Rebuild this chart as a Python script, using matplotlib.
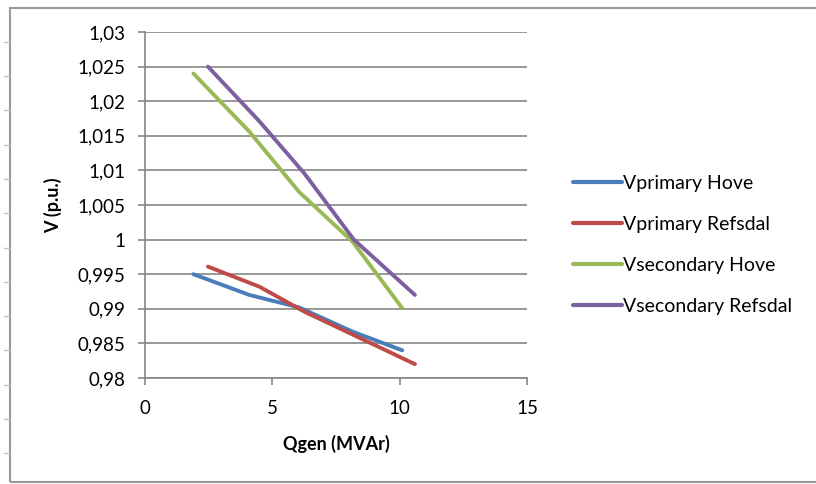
import matplotlib
matplotlib.use("Agg")
import matplotlib.pyplot as plt
from matplotlib.lines import Line2D
from matplotlib.patches import Rectangle

# values
q_hove = [1.9, 4.1, 6.05, 8.15, 10.1]
q_refsdal = [2.47, 4.49, 6.25, 8.2, 10.6]
v_primary_hove = [0.9950, 0.9920, 0.9902, 0.9867, 0.9840]
v_primary_refsdal = [0.9961, 0.9932, 0.9896, 0.9862, 0.9820]
v_secondary_hove = [1.0240, 1.0156, 1.0069, 0.9997, 0.9901]
v_secondary_refsdal = [1.0250, 1.0171, 1.0096, 1.0000, 0.9920]

labels = ['Vprimary Hove', 'Vprimary Refsdal', 'Vsecondary Hove', 'Vsecondary Refsdal']
colors = ['#4A7EBB', '#BE4B48', '#98B954', '#7D60A0']

y_ticks = [0.98, 0.985, 0.99, 0.995, 1.0, 1.005, 1.01, 1.015, 1.02, 1.025, 1.03]
y_ticklabels = ['0,98', '0,985', '0,99', '0,995', '1', '1,005', '1,01', '1,015', '1,02', '1,025', '1,03']
x_ticks = [0, 5, 10, 15]

plt.rcParams['font.family'] = ['Lato', 'DejaVu Sans']
grey = '#868686'

fig = plt.figure(figsize=(8.16, 4.84), dpi=100)
ax = fig.add_axes([145 / 816, 1 - 378 / 484, 382 / 816, 346 / 484])

series = [(q_hove, v_primary_hove), (q_refsdal, v_primary_refsdal),
          (q_hove, v_secondary_hove), (q_refsdal, v_secondary_refsdal)]
for (q, v), lab, c in zip(series, labels, colors):
    ax.plot(q, v, color=c, lw=2.8, label=lab, solid_capstyle='round', solid_joinstyle='round')

ax.set_xlim(0, 15)
ax.set_ylim(0.98, 1.03)
ax.set_xticks(x_ticks)
ax.set_xticklabels([str(t) for t in x_ticks])
ax.set_yticks(y_ticks)
ax.set_yticklabels(y_ticklabels)
ax.yaxis.grid(True, color=grey, lw=1.2)
ax.set_axisbelow(True)

for s in ['top', 'right']:
    ax.spines[s].set_visible(False)
for s in ['left', 'bottom']:
    ax.spines[s].set_color(grey)
    ax.spines[s].set_linewidth(1.2)
ax.tick_params(axis='both', colors=grey, length=5, width=1.2, labelsize=13.5, labelcolor='black')
ax.tick_params(axis='x', pad=11)
ax.tick_params(axis='y', pad=9)

ax.set_xlabel('Qgen (MVAr)', fontsize=13, fontweight='bold', va='center')
ax.xaxis.set_label_coords(0.5, (378 - 444) / 346)
ax.set_ylabel('V (p.u.)', fontsize=13, fontweight='bold', va='center')
ax.yaxis.set_label_coords((53 - 145) / 382, 0.5)

handles = [Line2D([], [], color=c, lw=3, solid_capstyle='round') for c in colors]
fig.legend(handles, labels, loc='upper left', bbox_to_anchor=(573 / 816, 1 - 175 / 484),
           frameon=False, fontsize=14, handlelength=2.5, handletextpad=0.08,
           labelspacing=1.23, borderaxespad=0, borderpad=0)

# outer chart frame
fig.patches.append(Rectangle((10 / 816, 2 / 484), 1.2, 1 - 10 / 484, transform=fig.transFigure,
                             fill=False, edgecolor='#9a9a9a', lw=1.5))
# spreadsheet row marks on the far left
for yp in range(0, 13):
    y = 1 - (41.7 + 34.3 * yp) / 484
    fig.add_artist(Line2D([4 / 816, 9 / 816], [y, y], color='#b8c4d4', lw=1))

fig.savefig('out.png', dpi=100)
